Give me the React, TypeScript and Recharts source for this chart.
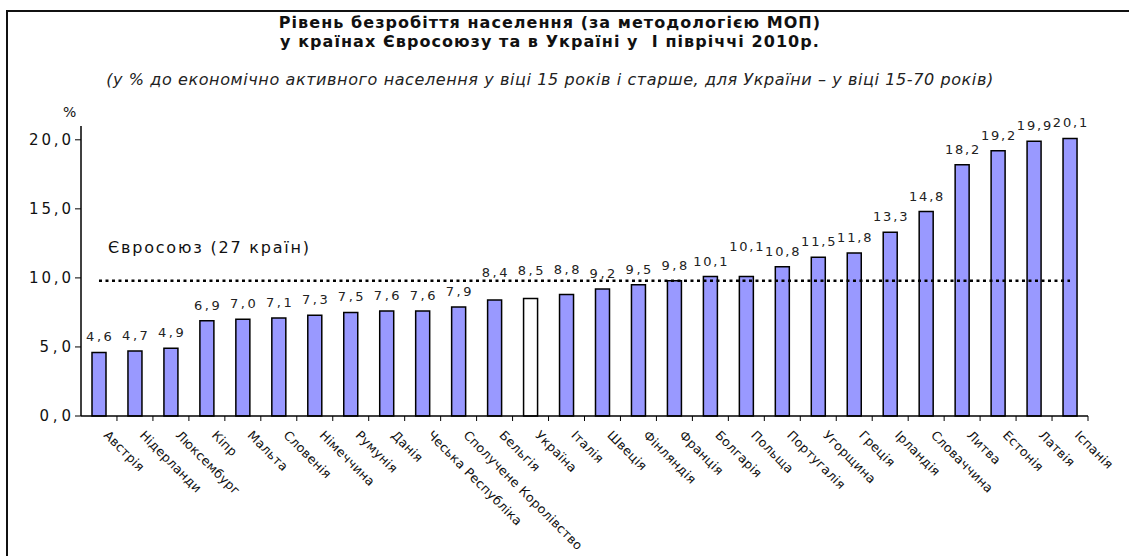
import React from 'react';
import { BarChart, Bar, XAxis, YAxis, ReferenceLine, LabelList, Cell } from 'recharts';

const countries = [
  'Австрія', 'Нідерланди', 'Люксембург', 'Кіпр', 'Мальта', 'Словенія', 'Німеччина',
  'Румунія', 'Данія', 'Чеська Республіка', 'Сполучене Королівство', 'Бельгія', 'Україна',
  'Італія', 'Швеція', 'Фінляндія', 'Франція', 'Болгарія', 'Польща', 'Португалія',
  'Угорщина', 'Греція', 'Ірландія', 'Словаччина', 'Литва', 'Естонія', 'Латвія', 'Іспанія',
];
const rates = [
  4.6, 4.7, 4.9, 6.9, 7.0, 7.1, 7.3, 7.5, 7.6, 7.6, 7.9, 8.4, 8.5, 8.8,
  9.2, 9.5, 9.8, 10.1, 10.1, 10.8, 11.5, 11.8, 13.3, 14.8, 18.2, 19.2, 19.9, 20.1,
];
const euAverage = 9.8;
const highlighted = 'Україна';
const yTicks = [0, 5, 10, 15, 20];

// a few value labels sit higher in the original so they clear the EU line
const labelLift: Record<string, number> = { 'Бельгія': 12, 'Україна': 13, 'Італія': 9, 'Польща': 15 };

const data = countries.map((name, i) => ({ name, value: rates[i] }));

const W = 1129;
const H = 556;
const margin = { top: 126, right: 41, bottom: 10, left: 21 };
const yAxisWidth = 60;
const xAxisHeight = 130;
const band = (W - margin.left - margin.right - yAxisWidth) / countries.length;
const axisX = margin.left + yAxisWidth;

const font = '"DejaVu Sans", Verdana, sans-serif';
const fmt = (v: number) => v.toFixed(1).replace('.', ',');

const CountryTick = (props: any) => {
  const { x, y, payload } = props;
  return (
    <g>
      <line x1={x + band / 2} x2={x + band / 2} y1={y - 8} y2={y - 3} stroke="#000" strokeWidth={1} />
      <text
        transform={`translate(${x + 4},${y + 12}) rotate(45)`}
        textAnchor="start"
        fontSize={12.6}
        letterSpacing={0.3}
        fontFamily={font}
        fill="#111"
      >
        {payload.value}
      </text>
    </g>
  );
};

// spaced-out digits like the original, right edge just left of the tick mark
const ValueTick = (props: any) => {
  const { y, payload } = props;
  const s = fmt(Number(payload.value));
  const len = s.length * 10.5;
  return (
    <text x={axisX - 10 - len} y={y + 5} textAnchor="start" fontSize={15} textLength={len} lengthAdjust="spacing" fontFamily={font} fill="#111">
      {s}
    </text>
  );
};

const BarValue = (props: any) => {
  const { x, y, width, value, index } = props;
  const s = fmt(Number(value));
  const len = s.length * 8.6;
  const lift = labelLift[countries[index]] || 0;
  return (
    <text x={x + width / 2 - len / 2} y={y - 11 - lift} textAnchor="start" fontSize={13} textLength={len} lengthAdjust="spacing" fontFamily={font} fill="#222">
      {s}
    </text>
  );
};

export default function App() {
  return (
    <div style={{ position: 'fixed', left: 0, top: 0, width: W, height: H, background: '#fff', fontFamily: font, overflow: 'hidden' }}>
      <div style={{ position: 'absolute', left: 6, top: 10, width: W, height: H, borderLeft: '2px solid #111', borderTop: '2px solid #111' }} />
      <div style={{ position: 'absolute', left: 0, width: 1100, top: 13, textAlign: 'center', fontWeight: 'bold', fontSize: 16, letterSpacing: 1.05, lineHeight: '19px', color: '#111' }}>
        Рівень безробіття населення (за методологією МОП)
        <br />у країнах Євросоюзу та в Україні у&nbsp; I півріччі 2010р.
      </div>
      <div style={{ position: 'absolute', left: 0, width: 1100, top: 70, textAlign: 'center', fontStyle: 'italic', fontSize: 16, letterSpacing: 0.6, color: '#222' }}>
        (у % до економічно активного населення у віці 15 років і старше, для України – у віці 15-70 років)
      </div>
      <div style={{ position: 'absolute', left: 63, top: 104, fontSize: 14, color: '#111' }}>%</div>
      <div style={{ position: 'absolute', left: 108, top: 238, fontSize: 16, letterSpacing: 1.8, color: '#111' }}>Євросоюз (27 країн)</div>
      <div style={{ position: 'absolute', left: 0, top: 0 }}>
        <BarChart width={W} height={H} data={data} margin={margin} barCategoryGap="30%">
          <XAxis
            dataKey="name"
            height={xAxisHeight}
            interval={0}
            axisLine={{ stroke: '#000', strokeWidth: 1.5 }}
            tickLine={false}
            tick={<CountryTick />}
          />
          <YAxis
            width={yAxisWidth}
            domain={[0, 21]}
            ticks={yTicks}
            axisLine={{ stroke: '#000', strokeWidth: 1.5 }}
            tickLine={{ stroke: '#000' }}
            tickSize={6}
            tick={<ValueTick />}
          />
          <ReferenceLine
            segment={[{ x: countries[0], y: euAverage }, { x: countries[countries.length - 1], y: euAverage }]}
            stroke="#000"
            strokeWidth={2.5}
            strokeDasharray="3 3.5"
          />
          <Bar dataKey="value" barSize={14} stroke="#000" strokeWidth={1.5} isAnimationActive={false}>
            {data.map((d) => (
              <Cell key={d.name} fill={d.name === highlighted ? '#ffffff' : '#9999ff'} />
            ))}
            <LabelList dataKey="value" content={<BarValue />} />
          </Bar>
        </BarChart>
      </div>
    </div>
  );
}
